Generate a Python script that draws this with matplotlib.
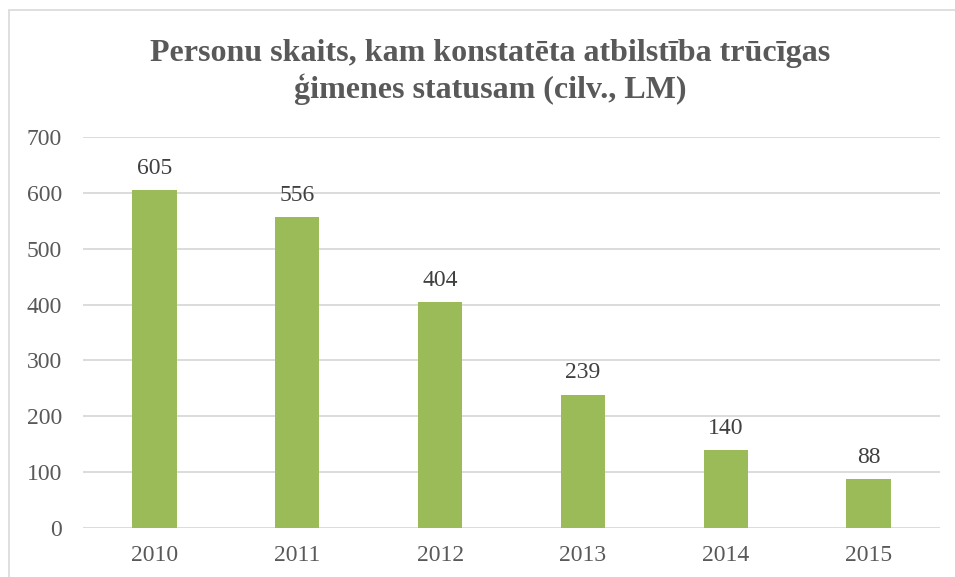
import matplotlib
matplotlib.use("Agg")
import matplotlib.pyplot as plt
from matplotlib.patches import Rectangle

years = ["2010", "2011", "2012", "2013", "2014", "2015"]
values = [605, 556, 404, 239, 140, 88]
title = "Personu skaits, kam konstatēta atbilstība trūcīgas\nģimenes statusam (cilv., LM)"

plt.rcParams['font.family'] = ['Liberation Serif', 'DejaVu Serif']

fig = plt.figure(figsize=(9.55, 5.77), dpi=100)
# chart border (partially cropped)
fig.patches.append(Rectangle((9/955, -0.1), 1.2, (577-10)/577 + 0.1, transform=fig.transFigure,
                             fill=False, edgecolor='#D9D9D9', linewidth=1.2))

ax = fig.add_axes([83/955, 49/577, (940-83)/955, (528-137)/577])
x = range(len(years))
bars = ax.bar(x, values, width=0.31, color='#9BBB59', zorder=3)
ax.set_xlim(-0.5, len(years) - 0.5)
ax.set_ylim(0, 700)
ax.set_yticks(range(0, 701, 100))
ax.set_xticks(list(x))
ax.set_xticklabels(years)
ax.grid(axis='y', color='#D9D9D9', linewidth=1.3, zorder=0)
for s in ax.spines.values():
    s.set_visible(False)
ax.tick_params(length=0, labelsize=17, colors='#595959')
ax.tick_params(axis='x', pad=12)
ax.tick_params(axis='y', pad=15)
for xi, v in zip(x, values):
    ax.annotate(str(v), (xi, v), xytext=(0, 8), textcoords='offset points',
                ha='center', va='bottom', fontsize=17, color='#404040')

fig.text(490/955, 1 - 72/577, title, ha='center', va='center', fontsize=23,
         fontweight='bold', color='#595959', linespacing=1.2)

fig.savefig('out.png', dpi=100)
